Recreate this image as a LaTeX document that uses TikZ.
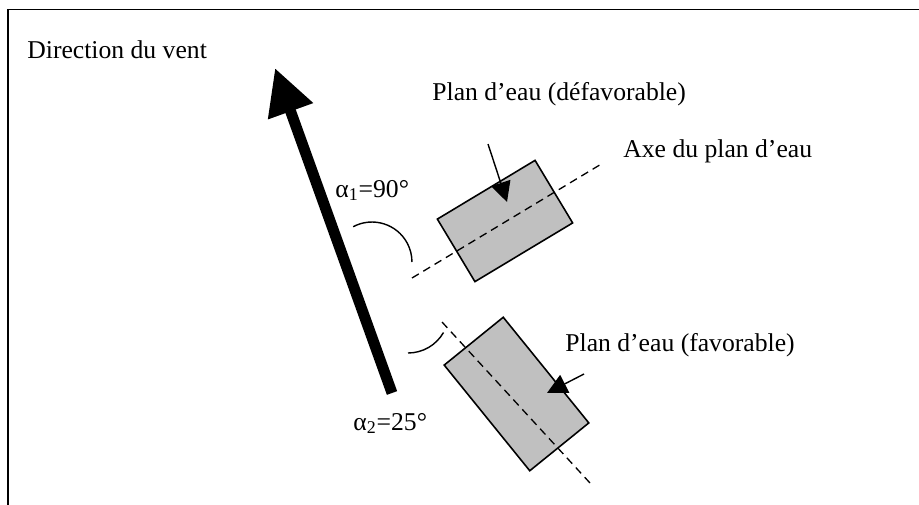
\documentclass[tikz,border=0pt]{standalone}
\usepackage{fontspec}
\setmainfont{Liberation Serif}
\usepackage{xcolor}
\usetikzlibrary{arrows.meta, calc}
\definecolor{cPool}{HTML}{C0C0C0}
\definecolor{cInk}{HTML}{000000}
\tikzset{
  pool/.style={rectangle, draw=cInk, line width=0.9pt, fill=cPool, inner sep=0pt},
  poolaxis/.style={draw=cInk, line width=0.75pt, dash pattern=on 4.5pt off 3pt},
  pointer/.style={-{Triangle[length=4mm, width=4mm]}, draw=cInk, line width=0.8pt},
  windarrow/.style={-{Triangle[length=9.2mm, width=9mm]}, draw=cInk, line width=6.2pt},
  lbl/.style={anchor=base west, inner sep=0pt, font=\fontsize{14.6}{17}\selectfont},
  anglearc/.style={draw=cInk, line width=0.8pt},
}

\begin{document}
\begin{tikzpicture}[x=0.02cm, y=-0.02cm]
\useasboundingbox (0,0) rectangle (919,504);
% frame
\draw[line width=1.1pt] (8,506) -- (8,9.5) -- (921,9.5);

% wind
\coordinate (windtail) at (392,393);
\coordinate (windtip) at (275,68);
\draw[windarrow] (windtail) -- (windtip);
\node[lbl] (wind) at (27,58) {Direction du vent};

% the two ponds
\node[pool, rotate=31, minimum width=2.28cm, minimum height=1.46cm] (pool1) at (505,221) {};
\node[pool, rotate=-51, minimum width=2.72cm, minimum height=1.52cm] (pool2) at (516.5,394) {};

% axes
\coordinate (ax1a) at (412,278);
\coordinate (ax1b) at (603,163);
\coordinate (ax2a) at (442,322);
\coordinate (ax2b) at (590,483);
\foreach \a/\b in {ax1a/ax1b,ax2a/ax2b}
  \draw[poolaxis] (\a) -- (\b);

% pointers
\coordinate (ptr1) at (488,144);
\coordinate (ptr1tip) at (507,202);
\coordinate (ptr2) at (584,374);
\coordinate (ptr2tip) at (547,393);
\foreach \a/\b in {ptr1/ptr1tip,ptr2/ptr2tip}
  \draw[pointer] (\a) -- (\b);

% angles
\coordinate (arc1) at (353.2,226.7);
\coordinate (arc2) at (408,353);
\draw[anglearc] (arc1) arc[start angle=118, end angle=0, radius=0.8cm];
\draw[anglearc] (arc2) arc[start angle=-90, end angle=-30, radius=0.82cm];

% labels
\node[lbl] (alpha1) at (335,197) {α\textsubscript{1}=90°};
\node[lbl] (alpha2) at (353,430) {α\textsubscript{2}=25°};
\node[lbl] (bad) at (432,100) {Plan d’eau (défavorable)};
\node[lbl] (axe) at (623,157) {Axe du plan d’eau};
\node[lbl] (good) at (565,351) {Plan d’eau (favorable)};
\end{tikzpicture}
\end{document}
